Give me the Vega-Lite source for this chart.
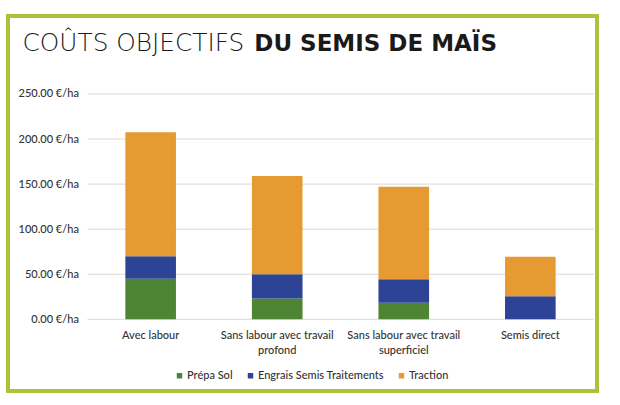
{
  "$schema": "https://vega.github.io/schema/vega-lite/v6.json",
  "width": 589,
  "height": 375,
  "autosize": {"type": "none"},
  "padding": {"left": 8, "top": 16, "right": 23, "bottom": 14},
  "background": "white",
  "config": {
    "view": {"stroke": "#abc23a", "strokeWidth": 4},
    "font": "Lato"
  },
  "datasets": {
    "grid": [{"v": 0}, {"v": 50}, {"v": 100}, {"v": 150}, {"v": 200}, {"v": 250}],
    "costs": [
      {"methode": "Avec labour", "poste": "Prépa Sol", "cout": 45},
      {"methode": "Avec labour", "poste": "Engrais Semis Traitements", "cout": 25},
      {"methode": "Avec labour", "poste": "Traction", "cout": 137.5},
      {"methode": "Sans labour avec travail profond", "poste": "Prépa Sol", "cout": 23},
      {"methode": "Sans labour avec travail profond", "poste": "Engrais Semis Traitements", "cout": 27},
      {"methode": "Sans labour avec travail profond", "poste": "Traction", "cout": 109},
      {"methode": "Sans labour avec travail superficiel", "poste": "Prépa Sol", "cout": 18.5},
      {"methode": "Sans labour avec travail superficiel", "poste": "Engrais Semis Traitements", "cout": 26},
      {"methode": "Sans labour avec travail superficiel", "poste": "Traction", "cout": 102.5},
      {"methode": "Semis direct", "poste": "Prépa Sol", "cout": 0},
      {"methode": "Semis direct", "poste": "Engrais Semis Traitements", "cout": 25.5},
      {"methode": "Semis direct", "poste": "Traction", "cout": 44}
    ]
  },
  "layer": [
    {
      "data": {"name": "grid"},
      "mark": {"type": "rule", "color": "#d9d9d9", "strokeWidth": 1},
      "encoding": {
        "y": {"field": "v", "type": "quantitative"},
        "x": {"datum": "Avec labour", "type": "nominal", "bandPosition": 0},
        "x2": {"datum": "Semis direct", "bandPosition": 1}
      }
    },
    {
      "data": {"name": "costs"},
      "transform": [
        {"calculate": "indexof(['Prépa Sol', 'Engrais Semis Traitements', 'Traction'], datum.poste)", "as": "rang"}
      ],
      "mark": {"type": "bar", "width": {"band": 0.4}},
      "encoding": {
        "x": {
          "field": "methode",
          "type": "nominal",
          "sort": null,
          "scale": {
            "domain": ["Avec labour", "Sans labour avec travail profond", "Sans labour avec travail superficiel", "Semis direct"],
            "paddingInner": 0,
            "paddingOuter": 0.327,
            "align": 0.959
          },
          "axis": {
            "title": "COÛTS OBJECTIFS",
            "titleX": 14,
            "titleY": -269,
            "titleAlign": "left",
            "titleBaseline": "alphabetic",
            "titleAnchor": null,
            "titleFont": "DejaVu Sans",
            "titleFontWeight": 200,
            "titleFontSize": 24.8,
            "titleColor": "#1a1a1a",
            "orient": "bottom",
            "offset": -72,
            "domain": false,
            "ticks": false,
            "grid": false,
            "labelAngle": 0,
            "labelAlign": "center",
            "labelPadding": 16,
            "labelFont": "Lato",
            "labelFontSize": 11,
            "labelFontWeight": 500,
            "labelColor": "#333333",
            "labelLineHeight": 15,
            "labelLimit": 0,
            "labelExpr": "split(replace(datum.label, 'travail ', 'travail|'), '|')"
          }
        },
        "y": {
          "field": "cout",
          "type": "quantitative",
          "stack": "zero",
          "scale": {"domain": [-79.56, 336.55], "nice": false, "zero": false},
          "axis": {
            "values": [0, 50, 100, 150, 200, 250],
            "labelExpr": "format(datum.value, '.2f') + ' €/ha'",
            "offset": -79.4,
            "domain": false,
            "ticks": false,
            "grid": false,
            "labelPadding": 9,
            "labelFont": "Lato",
            "labelFontSize": 11,
            "labelFontWeight": 500,
            "labelColor": "#333333",
            "title": "DU SEMIS DE MAÏS",
            "titleAngle": 0,
            "titleX": 166.4,
            "titleY": 34,
            "titleAlign": "left",
            "titleBaseline": "alphabetic",
            "titleFont": "DejaVu Sans",
            "titleFontWeight": 700,
            "titleFontSize": 23,
            "titleColor": "#1a1a1a"
          }
        },
        "order": {"field": "rang", "type": "quantitative", "sort": "ascending"},
        "color": {
          "field": "poste",
          "type": "nominal",
          "sort": ["Prépa Sol", "Engrais Semis Traitements", "Traction"],
          "scale": {
            "domain": ["Prépa Sol", "Engrais Semis Traitements", "Traction"],
            "range": ["#4e8534", "#2c4396", "#e59b31"]
          },
          "legend": {
            "orient": "none",
            "legendX": 166,
            "legendY": 354,
            "direction": "horizontal",
            "title": null,
            "symbolType": "square",
            "symbolSize": 30,
            "symbolStrokeWidth": 0,
            "labelFont": "Lato",
            "labelFontSize": 11,
            "labelFontWeight": 500,
            "labelColor": "#333333",
            "labelOffset": 2,
            "columnPadding": 12,
            "padding": 0
          }
        }
      }
    }
  ]
}
